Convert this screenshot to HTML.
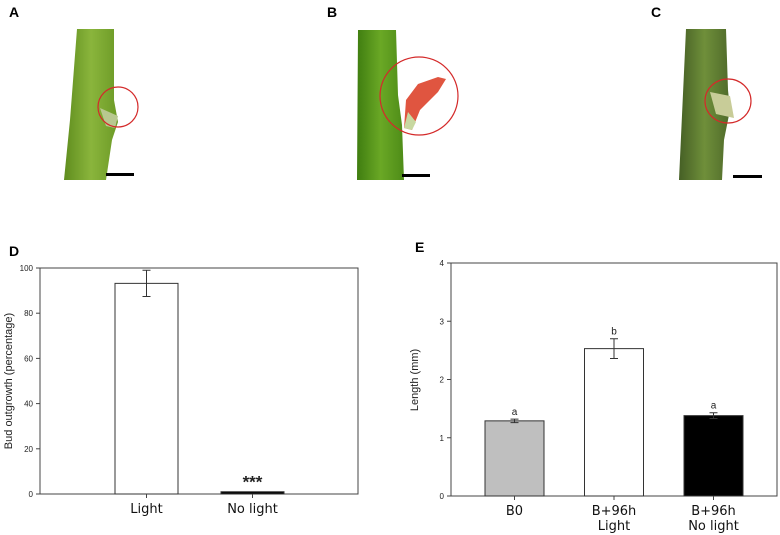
<!DOCTYPE html>
<html><head><meta charset="utf-8"><style>
html,body{margin:0;padding:0;background:#fff;}
svg{display:block;font-family:"Liberation Sans",sans-serif;}
</style></head><body>
<svg width="780" height="535" viewBox="0 0 780 535">
<defs>
<linearGradient id="gA" x1="0" x2="1"><stop offset="0" stop-color="#5f8d1e"/><stop offset="0.5" stop-color="#8ab53c"/><stop offset="1" stop-color="#6c9a26"/></linearGradient>
<linearGradient id="gB" x1="0" x2="1"><stop offset="0" stop-color="#3f7d10"/><stop offset="0.5" stop-color="#6aa825"/><stop offset="1" stop-color="#4e8c18"/></linearGradient>
<linearGradient id="gC" x1="0" x2="1"><stop offset="0" stop-color="#455f25"/><stop offset="0.5" stop-color="#6f8f3a"/><stop offset="1" stop-color="#4f6a2a"/></linearGradient>
</defs>
<g>
<text x="9" y="17" font-size="14" font-weight="bold">A</text>
<path d="M77,29 L114,29 L114,100 L118,122 L112,140 L106,180 L64,180 L70,120 Z" fill="url(#gA)"/>
<path d="M100,108 L118,116 L115,128 L106,126 Z" fill="#b8c890"/>
<ellipse cx="118" cy="107" rx="20" ry="20" fill="none" stroke="#d42a2a" stroke-width="1.2"/>
<rect x="106" y="173" width="28" height="3" fill="#000"/>
</g>
<g>
<text x="327" y="17" font-size="14" font-weight="bold">B</text>
<path d="M358,30 L396,30 L398,95 L402,125 L404,180 L357,180 Z" fill="url(#gB)"/>
<path d="M404,128 L406,100 L418,84 L438,77 L446,79 L438,92 L420,110 L412,130 Z" fill="#e05540"/>
<path d="M404,128 L412,130 L416,122 L408,112 Z" fill="#c8d8a0"/>
<ellipse cx="419" cy="96" rx="39" ry="39" fill="none" stroke="#d42a2a" stroke-width="1.2"/>
<rect x="402" y="174" width="28" height="3" fill="#000"/>
</g>
<g>
<text x="651" y="17" font-size="14" font-weight="bold">C</text>
<path d="M686,29 L726,29 L728,90 L730,110 L724,140 L722,180 L679,180 Z" fill="url(#gC)"/>
<path d="M710,92 L730,96 L734,118 L716,114 Z" fill="#c8cc98"/>
<ellipse cx="728" cy="101" rx="23" ry="22" fill="none" stroke="#d42a2a" stroke-width="1.2"/>
<rect x="733" y="175" width="29" height="3" fill="#000"/>
</g>
<g id="chartD">
<text x="9" y="256" font-size="14" font-weight="bold">D</text>
<text transform="translate(12,381) rotate(-90)" text-anchor="middle" font-size="11" fill="#222">Bud outgrowth (percentage)</text>
</g>
<g id="chartE">
<text x="415" y="252" font-size="14" font-weight="bold">E</text>
<text transform="translate(418,380) rotate(-90)" text-anchor="middle" font-size="11" fill="#222">Length (mm)</text>
</g>
</svg>
<script>
const dCats=["Light","No light"];
const dVals=[93.2,1];
const dErr=[5.8,0];
const dTicks=[0,20,40,60,80,100];
const dSig=["","***"];
const eCats=[["B0"],["B+96h","Light"],["B+96h","No light"]];
const eVals=[1.29,2.53,1.38];
const eErr=[0.03,0.17,0.05];
const eTicks=[0,1,2,3,4];
const eLetters=["a","b","a"];
const eFills=["#bfbfbf","#ffffff","#000000"];

const NS="http://www.w3.org/2000/svg";
function mk(parent,tag,attrs,text){const e=document.createElementNS(NS,tag);for(const k in attrs)e.setAttribute(k,attrs[k]);if(text!==undefined)e.textContent=text;parent.appendChild(e);return e;}

function drawChart(g,o){
  const y=v=>o.y0-(v-o.min)/(o.max-o.min)*(o.y0-o.y1);
  const xc=i=>o.first+o.step*i;
  const fr=mk(g,"rect",{x:o.x0,y:o.y1,width:o.x1-o.x0,height:o.y0-o.y1,fill:"none",stroke:"#444","stroke-width":1});
  
  
  o.ticks.forEach(t=>{
    const l=mk(g,"line",{x1:o.x0-4,x2:o.x0,y1:y(t),y2:y(t),stroke:"#444"});
    
    
    const tx=mk(g,"text",{x:o.x0-7,y:y(t)+3,"text-anchor":"end","font-size":8,fill:"#222"},String(t));
    
    
  });
  o.vals.forEach((v,i)=>{
    const cx=xc(i);
    const bw=o.bw;
    const top=y(v), base=y(o.min);
    const b=mk(g,"rect",{x:cx-bw/2,y:top,width:bw,height:Math.max(base-top,1),fill:o.fills[i],stroke:"#333","stroke-width":1});
    
    
    const tk=mk(g,"line",{x1:cx,x2:cx,y1:base,y2:base+4,stroke:"#444"});
    
    
    if(o.err[i]>0){
      const e=o.err[i];
      const el=mk(g,"path",{d:`M${cx},${y(v+e)}V${y(v-e)}M${cx-4},${y(v+e)}H${cx+4}M${cx-4},${y(v-e)}H${cx+4}`,stroke:"#333",fill:"none"});
      
      
    }
    const ann=o.ann[i];
    if(ann){
      const at=mk(g,"text",{x:cx,y:y(v+o.err[i])-o.annGap,"text-anchor":"middle","font-size":o.annSize,fill:"#222","font-weight":o.annWeight||"normal"},ann);
      
      
    }
    const lines=Array.isArray(o.cats[i])?o.cats[i]:[o.cats[i]];
    lines.forEach((s,j)=>{
      const ct=mk(g,"text",{x:cx,y:base+19+j*15,"text-anchor":"middle","font-size":13,fill:"#111","font-family":"DejaVu Sans, sans-serif"},s);
      
      
    });
  });
}
drawChart(document.getElementById("chartD"),{x0:40,x1:358,y0:494,y1:268,min:0,max:100,ticks:dTicks,vals:dVals,err:dErr,cats:dCats,ann:dSig,annGap:4,annSize:17,annWeight:"bold",fills:["#ffffff","#000000"],first:146.5,step:106,bw:63});
drawChart(document.getElementById("chartE"),{x0:451,x1:777,y0:496,y1:263,min:0,max:4,ticks:eTicks,vals:eVals,err:eErr,cats:eCats,ann:eLetters,annGap:4,annSize:10,fills:eFills,first:514.5,step:99.5,bw:59});
</script>
</body></html>
